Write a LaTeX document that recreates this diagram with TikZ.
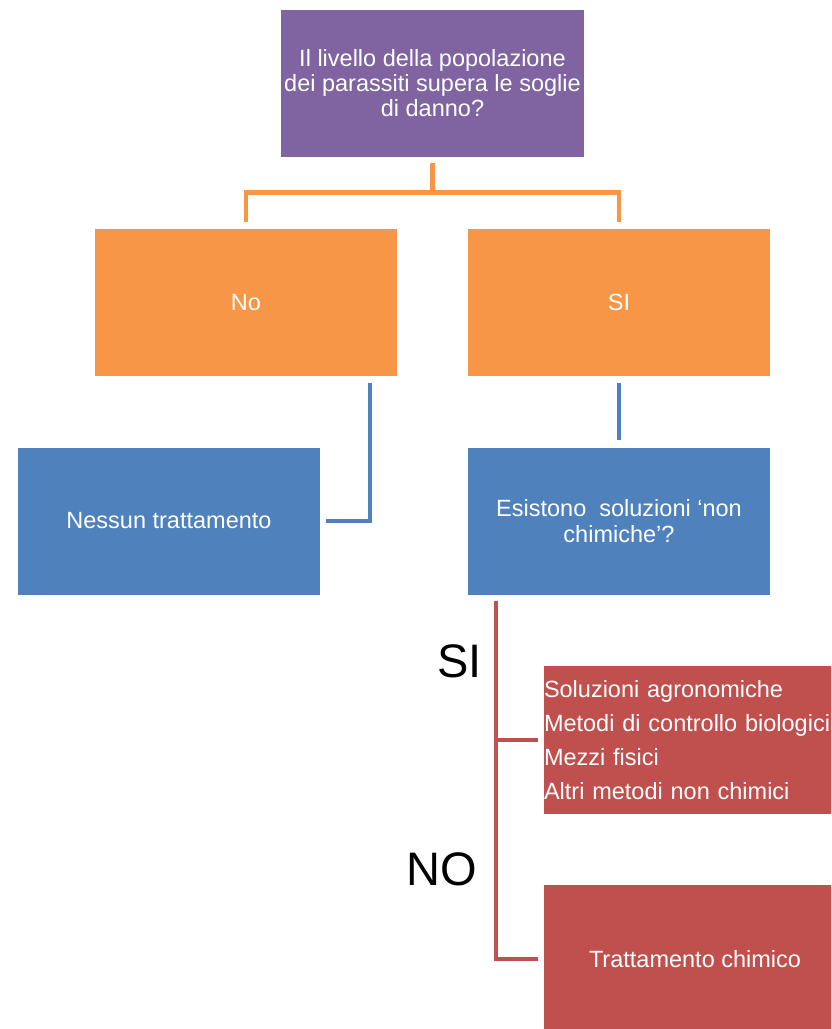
\documentclass[tikz,border=0pt]{standalone}
\usepackage{fontspec}
\setmainfont{Liberation Sans}
\definecolor{cpurple}{HTML}{8064A2}
\definecolor{corange}{HTML}{F79646}
\definecolor{cblue}{HTML}{4F81BD}
\definecolor{cred}{HTML}{C0504D}
\tikzset{
  box/.style={rectangle, inner sep=0pt, minimum width=302pt, minimum height=147pt,
    text=white, align=center, font=\fontsize{23.5}{25.5}\selectfont},
  oline/.style={draw=corange, line width=4.5pt},
  bline/.style={draw=cblue, line width=4.5pt},
  rline/.style={draw=cred, line width=4.5pt},
  biglabel/.style={inner sep=0pt, anchor=base west, font=\fontsize{47}{50}\selectfont, text=black}
}
\begin{document}
\begin{tikzpicture}[x=1pt,y=-1pt]
\useasboundingbox (0,0) rectangle (831,1029);
\clip (0,0) rectangle (831,1029);
\node[box, fill=cpurple, minimum width=303pt, font=\fontsize{23.5}{25}\selectfont] (q) at (432.5,83.5)
  {Il livello della popolazione\\dei parassiti supera le soglie\\di danno?};
\node[box, fill=corange] (no) at (246,302.5) {No};
\node[box, fill=corange] (si) at (619,302.5) {SI};
\node[box, fill=cblue] (nessun) at (169,521) {Nessun trattamento};
\node[box, fill=cblue, font=\fontsize{23.5}{26}\selectfont] (esist) at (619,521) {Esistono\ \ soluzioni ‘non\\chimiche’?};
\node[box, fill=cred, minimum height=148pt, text width=302pt, align=left, font=\fontsize{23.5}{34}\selectfont] (red1) at (695,740)
  {Soluzioni agronomiche\\Metodi di controllo biologici\\Mezzi fisici\\Altri metodi non chimici};
\node[box, fill=cred, minimum height=148pt] (red2) at (695,959) {Trattamento chimico};
% orange connectors
\draw[oline] ([yshift=-6pt]q.south) -- ++(0,29.5) coordinate (oj);
\draw[oline] ([yshift=7pt]no.north) |- (oj) -| ([yshift=7pt]si.north);
% blue connectors
\draw[bline] ([xshift=-27pt,yshift=-7pt]no.south east) |- ([xshift=6pt]nessun.east);
\draw[bline] ([yshift=-7pt]si.south) -- ([yshift=7pt]esist.north);
% red connectors
\draw[rline] ([xshift=28pt,yshift=-6pt]esist.south west) |- ([xshift=-6pt]red2.west);
\coordinate (rj) at ([xshift=-48pt]red1.west);
\draw[rline] (rj) -- ([xshift=-6pt]red1.west);
% labels
\node[biglabel] (lsi) at (437,677) {SI};
\node[biglabel] (lno) at (406,885) {NO};
\end{tikzpicture}
\end{document}
